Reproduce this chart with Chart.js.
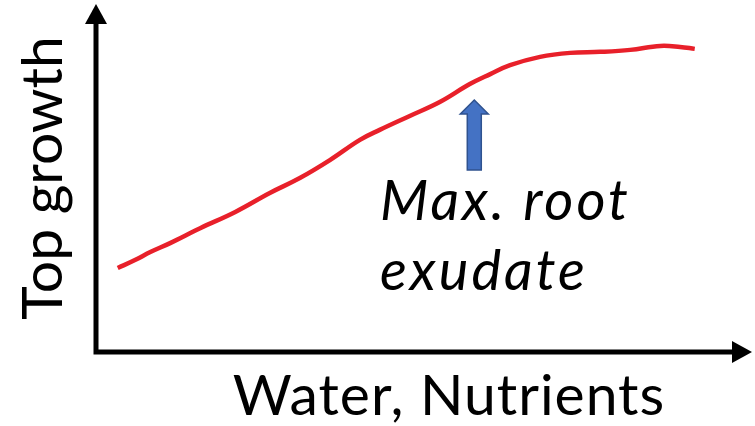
<!DOCTYPE html>
<html>
<head>
<meta charset="utf-8">
<script src="https://cdn.jsdelivr.net/npm/chart.js@4"></script>
<style>
  html, body { margin: 0; padding: 0; background: #fff; }
  #wrap { width: 755px; height: 426px; }
</style>
</head>
<body>
<div id="wrap"><canvas id="chart" width="755" height="426"></canvas></div>
<script>
// water / nutrients level (0-100) and top growth (0-100)
const waterLevels = [3.4, 6.1, 8.5, 11.6, 16.3, 21.8, 27.2, 31.9, 36.6, 41.3, 44.4, 49.1, 53.8, 58.5, 61.7, 64.8, 69.5, 74.2, 78.9, 83.6, 88.3, 91.4, 93.7];
const topGrowth = [25.3, 27.7, 30.1, 32.8, 37.3, 42.2, 47.9, 52.4, 57.8, 63.9, 66.9, 71.1, 75.3, 80.7, 83.7, 86.4, 88.9, 90.1, 90.4, 91.0, 92.2, 91.9, 91.3];
const maxExudateAt = 59.2;
const maxExudateArrow = [54.8, 75.9];

const FONT = 'Lato, "Open Sans", sans-serif';

const axesAndNotes = {
    id: 'axesAndNotes',
    afterDraw(chart) {
        const ctx = chart.ctx;
        const area = chart.chartArea;
        const x = chart.scales.x;
        const y = chart.scales.y;
        ctx.save();

        // axes with arrow heads
        ctx.strokeStyle = '#000';
        ctx.fillStyle = '#000';
        ctx.lineWidth = 5;
        ctx.beginPath();
        ctx.moveTo(area.left, area.top);
        ctx.lineTo(area.left, area.bottom);
        ctx.lineTo(area.right, area.bottom);
        ctx.stroke();
        ctx.beginPath();
        ctx.moveTo(area.left, area.top - 16);
        ctx.lineTo(area.left - 11, area.top + 4);
        ctx.lineTo(area.left + 11, area.top + 4);
        ctx.closePath();
        ctx.fill();
        ctx.beginPath();
        ctx.moveTo(area.right + 17, area.bottom);
        ctx.lineTo(area.right - 3, area.bottom - 11);
        ctx.lineTo(area.right - 3, area.bottom + 11);
        ctx.closePath();
        ctx.fill();

        // blue arrow
        const ax = x.getPixelForValue(maxExudateAt);
        const ab = y.getPixelForValue(maxExudateArrow[0]);
        const at = y.getPixelForValue(maxExudateArrow[1]);
        ctx.fillStyle = '#4472c4';
        ctx.strokeStyle = '#2f528f';
        ctx.lineWidth = 1.5;
        ctx.beginPath();
        ctx.moveTo(ax, at);
        ctx.lineTo(ax + 14, at + 14);
        ctx.lineTo(ax + 7, at + 14);
        ctx.lineTo(ax + 7, ab);
        ctx.lineTo(ax - 7, ab);
        ctx.lineTo(ax - 7, at + 14);
        ctx.lineTo(ax - 14, at + 14);
        ctx.closePath();
        ctx.fill();
        ctx.stroke();

        // texts
        ctx.fillStyle = '#000';
        ctx.textBaseline = 'alphabetic';
        ctx.textAlign = 'left';
        ctx.font = 'italic 56px ' + FONT;
        ctx.letterSpacing = '3px';
        ctx.fillText('Max. root', 380, 220);
        ctx.fillText('exudate', 380, 290);

        ctx.font = '57px ' + FONT;
        ctx.letterSpacing = '1px';
        ctx.textAlign = 'center';
        ctx.fillText('Water, Nutrients', 449, 415);

        ctx.letterSpacing = '0px';
        ctx.translate(62, 178);
        ctx.rotate(-Math.PI / 2);
        ctx.fillText('Top growth', 0, 0);
        ctx.restore();
    }
};

new Chart(document.getElementById('chart').getContext('2d'), {
    type: 'line',
    data: {
        datasets: [{
            label: 'Top growth',
            data: waterLevels.map((w, i) => ({ x: w, y: topGrowth[i] })),
            borderColor: '#e8202a',
            borderWidth: 4.5,
            tension: 0.4,
            pointRadius: 0,
            fill: false
        }]
    },
    options: {
        responsive: false,
        animation: false,
        layout: { padding: { left: 96, right: 20, top: 20, bottom: 74 } },
        plugins: { legend: { display: false }, tooltip: { enabled: false } },
        scales: {
            x: { type: 'linear', min: 0, max: 100, display: false },
            y: { min: 0, max: 100, display: false }
        }
    },
    plugins: [axesAndNotes]
});
</script>
</body>
</html>
